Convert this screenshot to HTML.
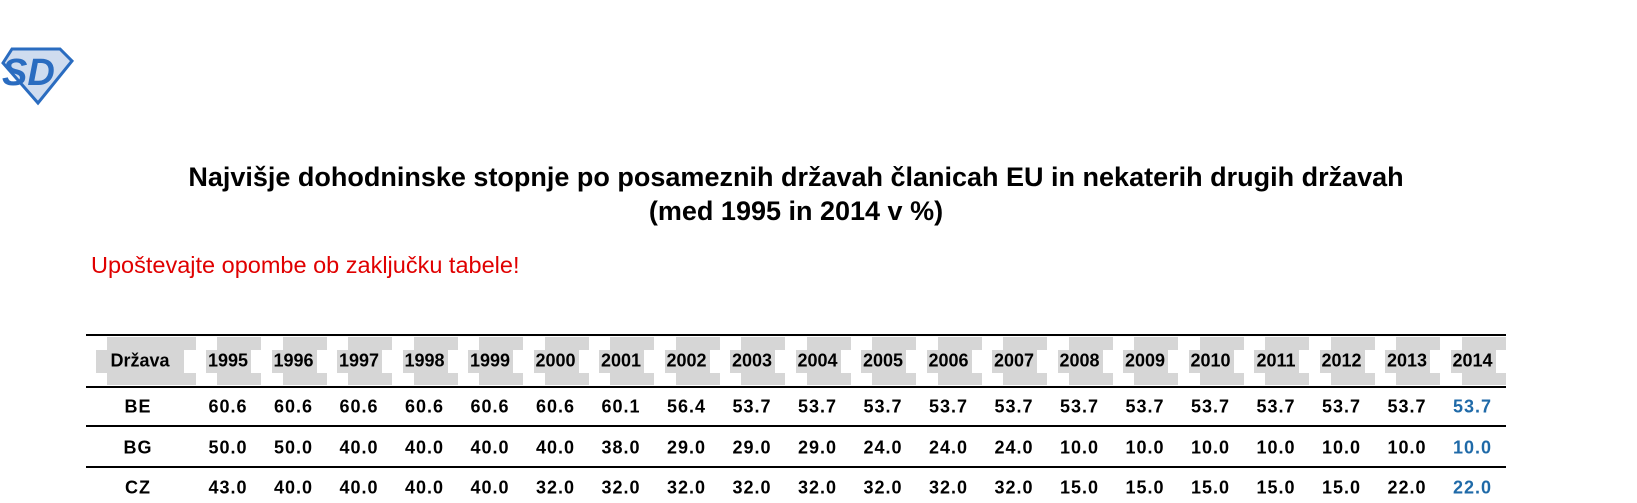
<!DOCTYPE html>
<html><head><meta charset="utf-8"><style>
body{margin:0;width:1637px;height:503px;background:#fff;position:relative;overflow:hidden;font-family:"Liberation Sans",Arial,sans-serif}
.t{position:absolute;left:0;width:1592px;text-align:center;font-weight:bold;font-size:27px;color:#000}
.c{position:absolute;transform:translate(-50%,-50%);font-weight:bold;font-size:18px;white-space:nowrap}
.d{letter-spacing:1px}
.g{position:absolute;background:#d6d6d6}
.l{position:absolute;left:86px;width:1420px;height:2px;background:#000}
.b{color:#1f6aa8}
</style></head><body>
<svg style="position:absolute;left:0;top:45px" width="75" height="62" viewBox="0 0 75 62">
<polygon points="12,4 60,4 72,16 38,58 3,18" fill="#cfdcef" stroke="#2a6cc0" stroke-width="3"/>
<text x="2" y="40" font-family="Liberation Sans" font-weight="bold" font-style="italic" font-size="38" fill="#2a6cc0">SD</text>
</svg>
<div class="t" style="top:162px">Najvišje dohodninske stopnje po posameznih državah članicah EU in nekaterih drugih državah</div>
<div class="t" style="top:196px">(med 1995 in 2014 v %)</div>
<div style="position:absolute;left:91px;top:252px;font-size:23.5px;color:#e00000">Upoštevajte opombe ob zaključku tabele!</div>
<div class="l" style="top:334px"></div>
<div class="l" style="top:386px"></div>
<div class="l" style="top:425px"></div>
<div class="l" style="top:466px"></div>
<div id="h"></div>
<script>
var yrs=[];for(var y=1995;y<=2014;y++)yrs.push(y);
var rows=[["BE","60.6 60.6 60.6 60.6 60.6 60.6 60.1 56.4 53.7 53.7 53.7 53.7 53.7 53.7 53.7 53.7 53.7 53.7 53.7 53.7"],
["BG","50.0 50.0 40.0 40.0 40.0 40.0 38.0 29.0 29.0 29.0 24.0 24.0 24.0 10.0 10.0 10.0 10.0 10.0 10.0 10.0"],
["CZ","43.0 40.0 40.0 40.0 40.0 32.0 32.0 32.0 32.0 32.0 32.0 32.0 32.0 15.0 15.0 15.0 15.0 15.0 22.0 22.0"]];
var h="";
function g(x,y,w,hh){h+='<div class="g" style="left:'+x+'px;top:'+y+'px;width:'+w+'px;height:'+hh+'px"></div>';}
g(107,337,89,13);g(107,373,89,12);g(96,350,88,23);
h+='<div class="c" style="left:140px;top:361px">Država</div>';
for(var i=0;i<20;i++){var c=228+i*65.5;
g(c-11,337,44,13);g(c-11,373,44,12);g(c-22,350,45,23);
h+='<div class="c" style="left:'+c+'px;top:361px">'+yrs[i]+'</div>';}
for(var r=0;r<3;r++){var yy=407+r*40.5;
h+='<div class="c d" style="left:138px;top:'+yy+'px">'+rows[r][0]+'</div>';
var v=rows[r][1].split(" ");
for(var i=0;i<20;i++){var c=228+i*65.5;
h+='<div class="c d'+(i==19?' b':'')+'" style="left:'+c+'px;top:'+yy+'px">'+v[i]+'</div>';}}
document.getElementById("h").innerHTML=h;
</script>
</body></html>
